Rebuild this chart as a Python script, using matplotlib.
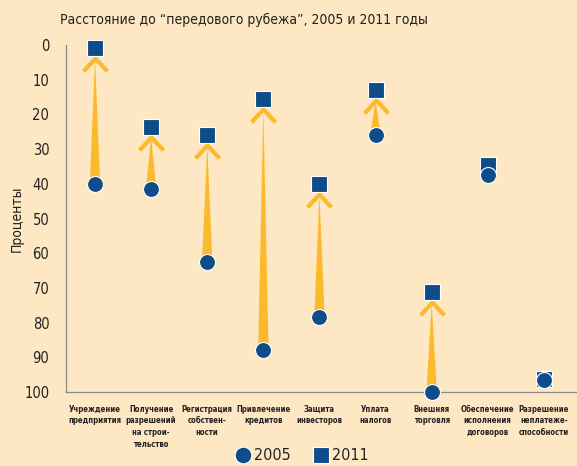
import matplotlib
matplotlib.use("Agg")
import matplotlib.pyplot as plt
from matplotlib.path import Path
from matplotlib.patches import FancyArrowPatch
from matplotlib.lines import Line2D

categories = [
    "Учреждение\nпредприятия",
    "Получение\nразрешений\nна строи-\nтельство",
    "Регистрация\nсобствен-\nности",
    "Привлечение\nкредитов",
    "Защита\nинвесторов",
    "Уплата\nналогов",
    "Внешняя\nторговля",
    "Обеспечение\nисполнения\nдоговоров",
    "Разрешение\nнеплатеже-\nспособности",
]
values_2005 = [40, 41.5, 62.5, 88, 78.5, 26, 100, 37.5, 96.5]
values_2011 = [1, 23.5, 26, 15.7, 40, 13, 71.3, 34.5, 96.3]
yticks = [0, 10, 20, 30, 40, 50, 60, 70, 80, 90, 100]
title = "Расстояние до “передового рубежа”, 2005 и 2011 годы"
ylabel = "Проценты"
series_labels = ["2005", "2011"]

BG = "#fee7c3"
BLUE = "#0f4c8a"
ORANGE = "#fdb92e"
TEXT = "#222222"
plt.rcParams["font.family"] = ["DejaVu Sans"]
plt.rcParams["font.stretch"] = "condensed"

fig = plt.figure(figsize=(5.77, 4.66), dpi=100, facecolor=BG)
ax = fig.add_axes([66 / 577, 1 - 392 / 466, 1 - 66 / 577, (392 - 45) / 466])
ax.set_facecolor(BG)

x = list(range(len(categories)))
ax.set_xlim(-0.517, 8.59)
ax.set_ylim(100, 0)

# chevron marker: apex ~10px below the square centre
chev = Path([(-12, -23), (0, -10), (12, -23)], [Path.MOVETO, Path.LINETO, Path.LINETO])

for xi, a, b in zip(x, values_2005, values_2011):
    if a - b > 5:
        arr = FancyArrowPatch((xi, a), (xi, b), arrowstyle="wedge,tail_width=0.75,shrink_factor=0.5",
                              mutation_scale=10, color=ORANGE, lw=0, shrinkA=0, shrinkB=7.5, zorder=2)
        ax.add_patch(arr)
        ax.plot([xi], [b], marker=chev, markersize=33, markerfacecolor="none",
                markeredgecolor=ORANGE, markeredgewidth=3.0, linestyle="none", zorder=2)

ax.plot(x, values_2011, linestyle="none", marker="s", markersize=11.2, color=BLUE,
        markeredgecolor="white", markeredgewidth=0.8, zorder=3, clip_on=False)
ax.plot(x, values_2005, linestyle="none", marker="o", markersize=11.5, color=BLUE,
        markeredgecolor="white", markeredgewidth=0.8, zorder=4, clip_on=False)

for s in ["top", "right"]:
    ax.spines[s].set_visible(False)
for s in ["left", "bottom"]:
    ax.spines[s].set_color("#8a8a8a")
    ax.spines[s].set_linewidth(0.9)

ax.set_yticks(yticks)
ax.set_yticklabels([str(t) for t in yticks], fontsize=10.5, color=TEXT)
ax.tick_params(axis="y", length=0, pad=12)
ax.set_xticks(x)
ax.set_xticklabels(categories, fontsize=5.6, color=TEXT, linespacing=1.4, va="top", fontweight="bold")
ax.tick_params(axis="x", length=0, pad=9)

ax.set_ylabel(ylabel, fontsize=10, color=TEXT)
ax.yaxis.set_label_coords((24 - 66) / 511, 0.5)

fig.text(244 / 577, 1 - 20 / 466, title, ha="center", va="center", fontsize=10, color=TEXT)

handles = [
    Line2D([], [], linestyle="none", marker="o", markersize=12, color=BLUE, markeredgecolor="white", markeredgewidth=0.8),
    Line2D([], [], linestyle="none", marker="s", markersize=12, color=BLUE, markeredgecolor="white", markeredgewidth=0.8),
]
fig.legend(handles, series_labels, loc="center", bbox_to_anchor=(0.523, 0.022), ncol=2, frameon=False,
           fontsize=11.5, handletextpad=0.2, columnspacing=1.4, handlelength=1.0, labelcolor=TEXT)

fig.savefig("out.png", dpi=100, facecolor=BG)
